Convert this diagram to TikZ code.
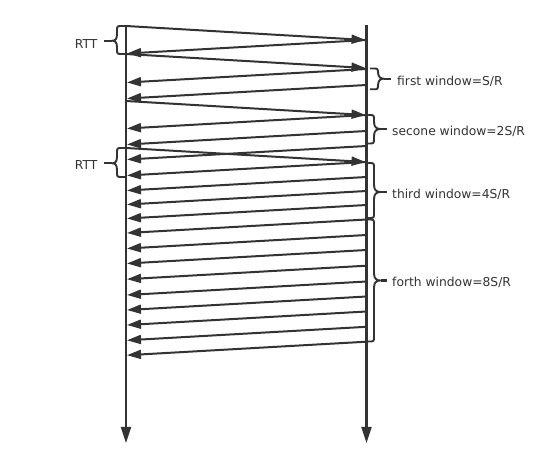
\documentclass[tikz,border=0pt]{standalone}
\usepackage{fontspec}
\setmainfont{DejaVu Sans}
\usetikzlibrary{arrows.meta}
\definecolor{ink}{HTML}{333333}
% #1 x0, #2 s (direction), #3 d (depth of vertical), #4 t (tip offset), #5 xt (tick end), #6 y0, #7 ym, #8 y1
\newcommand\tcpbrace[8]{%
  \draw[bracepath] (#1,#6) -- ({#1+#2*(#3-5)},#6)
    .. controls ({#1+#2*#3},#6) .. ({#1+#2*#3},{#6+5})
    -- ({#1+#2*#3},{#7-7})
    .. controls ({#1+#2*#3},{#7-1}) and ({#1+#2*(#3+#4-3)},#7) .. ({#1+#2*(#3+#4)},#7)
    .. controls ({#1+#2*(#3+#4-3)},#7) and ({#1+#2*#3},{#7+1}) .. ({#1+#2*#3},{#7+7})
    -- ({#1+#2*#3},{#8-5})
    .. controls ({#1+#2*#3},#8) .. ({#1+#2*(#3-5)},#8)
    -- (#1,#8);
  \draw[bracetick] ({#1+#2*(#3+#4)},#7) -- (#5,#7);}
\begin{document}
\begin{tikzpicture}[x=1pt,y=-1pt,
  lifeline/.style={draw=ink,line width=2.1pt,-{Triangle[length=16pt,width=10pt]}},
  msg/.style={draw=ink,line width=2pt,-{Triangle[length=14pt,width=9pt]}},
  bracepath/.style={draw=ink,line width=1.9pt,line join=round},
  bracetick/.style={draw=ink,line width=2.2pt},
  lbl/.style={font=\fontsize{12.3}{14}\selectfont,text=ink,inner sep=0pt}]
\useasboundingbox (0,0) rectangle (558,468);
% lifelines
\coordinate (S0) at (126,25);
\coordinate (S1) at (126,443);
\coordinate (R0) at (366.5,25);
\coordinate (R1) at (366.5,443);
\draw[lifeline] (S0) -- (S1);
\draw[lifeline] (R0) -- (R1);
% forward messages
\foreach \y in {26,54,101,148}
  \draw[msg] (126,\y) -- (365.5,\y+14);
% returning messages
\foreach \y in {40,69,85,115,131,146,162,177,191,205,219.5,235,250,265.7,281.5,296.5,311.5,326.8,341.7}
  \draw[msg] (366.5,\y) -- (127,\y+13.5);
% braces
\tcpbrace{126}{-1}{9}{5}{104}{26}{40.7}{54}
\tcpbrace{126}{-1}{9}{5}{104}{148}{163.3}{177}
\tcpbrace{370}{1}{8}{6}{391}{68.5}{78.7}{89.3}
\tcpbrace{366.5}{1}{7.5}{6.5}{387}{115}{129}{143.5}
\tcpbrace{366.5}{1}{7.5}{6.5}{387}{163}{192}{218}
\tcpbrace{366.5}{1}{7.5}{6.5}{387}{219.5}{280.5}{341.5}
% labels
\node[lbl,anchor=base east] (rtt1) at (97.5,48.3) {RTT};
\node[lbl,anchor=base east] (rtt2) at (97.5,169.3) {RTT};
\node[lbl,anchor=base west] (w1) at (397,86) {first window=S/R};
\node[lbl,anchor=base west] (w2) at (392,135.7) {secone window=2S/R};
\node[lbl,anchor=base west] (w3) at (392,199) {third window=4S/R};
\node[lbl,anchor=base west] (w4) at (392,286.6) {forth window=8S/R};
\end{tikzpicture}
\end{document}
